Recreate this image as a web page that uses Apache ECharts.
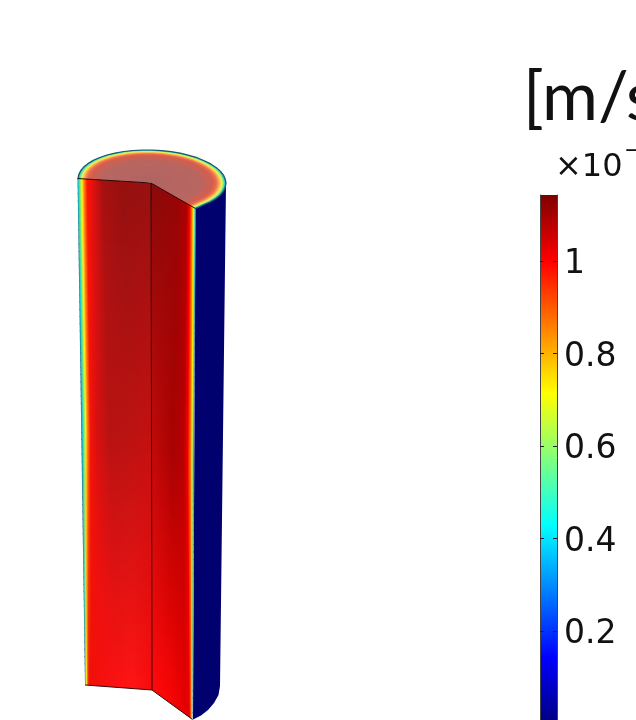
<!DOCTYPE html>
<html><head><meta charset="utf-8">
<style>html,body{margin:0;padding:0;background:#fff;overflow:hidden}#c{width:636px;height:720px}</style>
<script src="https://cdn.jsdelivr.net/npm/echarts@6/dist/echarts.min.js"></script>
</head><body><div id="c"></div>
<script>
// ---- colour bar
const tickValues = [0.2, 0.4, 0.6, 0.8, 1];
const colorbarMax = 1.143;
const jetStops = [[0,'#00007f'],[0.125,'#0000ff'],[0.375,'#00ffff'],[0.625,'#ffff00'],[0.875,'#ff0000'],[1,'#7f0000']];
// ---- model outline
const capCenter = [151, 182];
const capRim = [[78,178.8],[78.6,174.8],[80.5,170.9],[83.6,167],[87.9,163.6],[93.3,160.3],[99.7,157.5],[106.9,155],[115,153.1],[123.7,151.5],[132.8,150.5],[142.3,150],[152,150],[161.7,150.6],[171.2,151.7],[180.3,153.2],[189,155.3],[197.1,157.7],[204.3,160.7],[210.7,163.9],[216.1,167.4],[220.4,171.1],[223.5,175.1],[225.3,179.2],[226,183.2],[225.3,187.2],[223.5,191.1],[220.4,195],[216.1,198.4],[210.7,201.7],[204.3,204.5],[199.6,206.8],[195.5,208.5]];
const rimRightIndex = 24;
const outerBottom = [[220,686],[218.5,695],[214,703],[208,710],[201,715.5],[193,719.5]];
const leftFace = [[77.5,178.5],[151,183],[152,690],[85,685]];
const rightFace = [[151,183],[195.5,208.5],[192.5,719.5],[152,690]];
const cutEdges = [[[77.5,178.5],[151,183],[195.5,208.5]],[[151,183],[152,690]],[[85,685],[152,690],[192.5,719.5]]];
// ---- surface colours
const capStops = [[1,'#1f6a80'],[.985,'#30d0d0'],[.965,'#a0f060'],[.945,'#f8f060'],[.915,'#f8b050'],[.875,'#ee6b50'],[.82,'#d06050'],[.7,'#b96660'],[0,'#b06464']];
const leftRows = [
 [[0,'#1a7a90'],[.015,'#20d0d0'],[.04,'#a0f050'],[.06,'#fff020'],[.09,'#ff8010'],[.13,'#ff1500'],[.2,'#e51010'],[.34,'#a81010'],[.6,'#951010'],[1,'#9a1010']],
 [[0,'#1a6a88'],[.02,'#20c8d0'],[.045,'#90f060'],[.065,'#ffe820'],[.09,'#ff8010'],[.13,'#f51408'],[.22,'#d81010'],[.4,'#b81212'],[.7,'#bc1212'],[1,'#c41010']],
 [[0,'#1a6a88'],[.01,'#60d0a0'],[.025,'#ffe020'],[.04,'#ff6010'],[.06,'#f01008'],[.1,'#f01008'],[.3,'#f81010'],[.5,'#fc1212'],[.7,'#ff1414'],[1,'#f80c0c']]
];
const rightRows = [
 [[0,'#8a0a0a'],[.6,'#980505'],[.8,'#b00000'],[.87,'#ff0000'],[.92,'#ff8000'],[.95,'#fff000'],[.98,'#60e0b0'],[1,'#2080a0']],
 [[0,'#c00a0a'],[.5,'#a80202'],[.75,'#b80000'],[.85,'#f00000'],[.92,'#ff8000'],[.95,'#ffe800'],[.98,'#50d0c0'],[1,'#204080']],
 [[0,'#ff0a0a'],[.5,'#f80404'],[.8,'#e60000'],[.92,'#e60000'],[.96,'#ff6000'],[.985,'#ffe000'],[.995,'#80b070'],[1,'#607090']]
];
const navy = '#00006e';

function hex(c){return [1,3,5].map(i=>parseInt(c.substr(i,2),16));}
function mix(a,b,t){const x=hex(a),y=hex(b);return 'rgb('+x.map((v,i)=>Math.round(v+(y[i]-v)*t)).join(',')+')';}
function lerp(p,q,t){return [p[0]+(q[0]-p[0])*t,p[1]+(q[1]-p[1])*t];}
function rowAt(rows,t){
  const s=t*(rows.length-1), i=Math.min(Math.floor(s),rows.length-2), f=s-i;
  return rows[i].map((st,k)=>({offset:st[0]+(rows[i+1][k][0]-st[0])*f,color:mix(st[1],rows[i+1][k][1],f)}));
}
function capColor(f){
  for(let i=0;i<capStops.length-1;i++){
    const a=capStops[i],b=capStops[i+1];
    if(f<=a[0]&&f>=b[0])return mix(a[1],b[1],(a[0]-f)/(a[0]-b[0]));
  }
  return capStops[capStops.length-1][1];
}
const STRIPS=70;
const stripIdx=Array.from({length:STRIPS},(_,i)=>[i]);
function faceSeries(corners,rows,z){
  return {type:'custom',coordinateSystem:'cartesian2d',xAxisIndex:0,yAxisIndex:0,clip:false,silent:true,z,data:stripIdx,
    renderItem(p,api){
      const i=api.value(0),t0=i/STRIPS,t1=Math.min(1,(i+1.15)/STRIPS);
      const pts=[lerp(corners[0],corners[3],t0),lerp(corners[1],corners[2],t0),lerp(corners[1],corners[2],t1),lerp(corners[0],corners[3],t1)].map(q=>api.coord(q));
      return {type:'polygon',shape:{points:pts},style:{fill:new echarts.graphic.LinearGradient(0,0,1,0,rowAt(rows,(i+.5)/STRIPS))}};
    }};
}
const capFractions=[];
for(let f=1;f>.8;f-=.005)capFractions.push([f]);
for(let f=.8;f>.05;f-=.05)capFractions.push([f]);
const capSeries={type:'custom',coordinateSystem:'cartesian2d',xAxisIndex:0,yAxisIndex:0,clip:false,silent:true,z:3,data:capFractions,
  renderItem(p,api){
    const f=api.value(0);
    const pts=[capCenter].concat(capRim.map(q=>lerp(capCenter,q,f))).map(q=>api.coord(q));
    return {type:'polygon',shape:{points:pts},style:{fill:capColor(f)}};
  }};
const outerSeries={type:'custom',coordinateSystem:'cartesian2d',xAxisIndex:0,yAxisIndex:0,clip:false,silent:true,z:2,data:[[0]],
  renderItem(p,api){
    const pts=capRim.slice(rimRightIndex).reverse().concat(outerBottom).map(q=>api.coord(q));
    return {type:'polygon',shape:{points:pts},style:{fill:navy}};
  }};
function edge(points,color,width,z){
  return {type:'line',xAxisIndex:0,yAxisIndex:0,data:points,showSymbol:false,symbol:'none',silent:true,clip:false,z,lineStyle:{color,width}};
}
const labelFont='"DejaVu Sans"';
const chart=echarts.init(document.getElementById('c'),null,{renderer:'canvas'});
chart.setOption({
  animation:false,backgroundColor:'#fff',
  title:[
    {text:'[m/s]',left:523,top:64,padding:0,textStyle:{fontFamily:'"Lato"',fontSize:68,fontWeight:'normal',color:'#111'}},
    {text:'×10',left:555,top:152,padding:0,textStyle:{fontFamily:labelFont,fontSize:32,fontWeight:'normal',color:'#111'}},
    {text:'−7',left:624,top:140,padding:0,textStyle:{fontFamily:labelFont,fontSize:22,fontWeight:'normal',color:'#111'}}
  ],
  grid:[
    {left:0,top:0,width:636,height:720,outerBoundsMode:'none'},
    {left:540,top:195,width:17,height:528.5,outerBoundsMode:'none'}
  ],
  xAxis:[
    {type:'value',gridIndex:0,min:0,max:636,show:false},
    {type:'category',gridIndex:1,data:[''],show:false}
  ],
  yAxis:[
    {type:'value',gridIndex:0,min:0,max:720,inverse:true,show:false},
    {type:'value',gridIndex:1,min:0,max:colorbarMax,position:'left',z:6,splitLine:{show:false},
      axisLine:{show:true,lineStyle:{color:'#444',width:1}},
      axisTick:{show:true,inside:true,length:4,customValues:tickValues,lineStyle:{color:'#222',width:1}},
      axisLabel:{show:false}},
    {type:'value',gridIndex:1,min:0,max:colorbarMax,position:'right',z:6,splitLine:{show:false},
      axisLine:{show:true,lineStyle:{color:'#444',width:1}},
      axisTick:{show:true,inside:true,length:4,customValues:tickValues,lineStyle:{color:'#222',width:1}},
      axisLabel:{show:true,customValues:tickValues,margin:7,formatter:v=>'{a|'+v+'}',
        rich:{a:{padding:[7,0,0,0],fontFamily:labelFont,fontSize:33,color:'#111'}}}}
  ],
  series:[
    outerSeries,capSeries,
    faceSeries(leftFace,leftRows,4),
    faceSeries(rightFace,rightRows,4),
    edge(capRim,'#1c5a70',1.2,5),
    edge(cutEdges[0],'#2a0606',1,6),
    edge(cutEdges[1],'#2a0606',1,6),
    edge(cutEdges[2],'#3a0606',1,6),
    {type:'bar',xAxisIndex:1,yAxisIndex:1,data:[colorbarMax],barWidth:'100%',silent:true,z:2,
      itemStyle:{color:new echarts.graphic.LinearGradient(0,1,0,0,jetStops.map(s=>({offset:s[0],color:s[1]})))}}
  ]
});
</script></body></html>
